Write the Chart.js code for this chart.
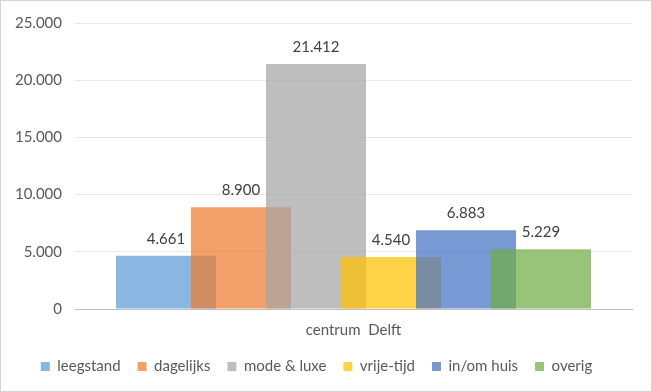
<!doctype html>
<html lang="nl">
<head>
<meta charset="utf-8">
<title>centrum Delft</title>
<script src="https://cdn.jsdelivr.net/npm/chart.js@4"></script>
<style>
  body { margin: 0; background: #fff; }
  #wrap { position: relative; width: 652px; height: 392px; border: 1px solid #d4d4d4; box-sizing: border-box; }
</style>
</head>
<body>
<div id="wrap"><canvas id="chart"></canvas></div>
<script>
const categories = ['centrum  Delft']
const series = ['leegstand', 'dagelijks', 'mode & luxe', 'vrije-tijd', 'in/om huis', 'overig']
const values = [4661, 8900, 21412, 4540, 6883, 5229]
const colors = ['91,155,213', '237,125,49', '165,165,165', '255,192,0', '68,114,196', '112,173,71']
const yTicks = [0, 5000, 10000, 15000, 20000, 25000]

// dutch thousands separator
const fmt = (v) => String(v).replace(/\B(?=(\d{3})+(?!\d))/g, '.')
const font = { family: 'Lato', size: 15 }

// excel draws later series on top, chart.js does the opposite
const drawOrder = {
  id: 'drawOrder',
  beforeDatasetsDraw(chart) {
    chart.getSortedVisibleDatasetMetas().forEach((meta) => meta.controller.draw())
    return false
  }
}

const valueLabels = {
  id: 'valueLabels',
  afterDraw(chart) {
    const ctx = chart.ctx
    ctx.save()
    ctx.font = '15px Lato'
    ctx.fillStyle = '#404040'
    ctx.textAlign = 'center'
    ctx.textBaseline = 'alphabetic'
    chart.getSortedVisibleDatasetMetas().forEach((meta) => {
      meta.data.forEach((bar, j) => {
        ctx.fillText(fmt(chart.data.datasets[meta.index].data[j]), bar.x, bar.y - 12)
      })
    })
    ctx.restore()
  }
}

new Chart(document.getElementById('chart'), {
  type: 'bar',
  data: {
    labels: categories,
    datasets: series.map((name, i) => ({
      label: name,
      data: [values[i]],
      backgroundColor: 'rgba(' + colors[i] + ',0.72)',
      borderWidth: 0,
      categoryPercentage: 0.808,
      barPercentage: 1.333
    }))
  },
  options: {
    responsive: true,
    maintainAspectRatio: false,
    animation: false,
    layout: { padding: { left: 0, right: 19, top: 21, bottom: 7 } },
    plugins: {
      legend: {
        position: 'bottom',
        labels: { boxWidth: 9, boxHeight: 9, padding: 17, color: '#595959', font }
      },
      tooltip: { enabled: false }
    },
    scales: {
      x: {
        grid: { display: false },
        border: { color: '#bfbfbf' },
        afterFit: (s) => { s.height = s.height - 1 },
        ticks: { color: '#595959', font, padding: 4 }
      },
      y: {
        min: 0,
        max: 25000,
        afterBuildTicks: (s) => { s.ticks = yTicks.map((v) => ({ value: v })) },
        afterFit: (s) => { s.width = 74 },
        border: { display: false },
        grid: { drawTicks: false, color: (c) => (c.tick.value === 0 ? '#bfbfbf' : '#e8e8e8') },
        ticks: { color: '#595959', font, padding: 13, callback: (v) => fmt(v) }
      }
    }
  },
  plugins: [drawOrder, valueLabels]
})
</script>
</body>
</html>
